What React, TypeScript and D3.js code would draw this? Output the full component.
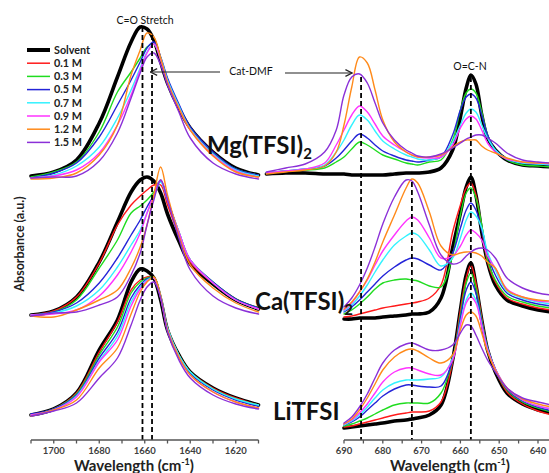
import React from 'react';
import * as d3 from 'd3';

const SERIES = ['Solvent', '0.1 M', '0.3 M', '0.5 M', '0.7 M', '0.9 M', '1.2 M', '1.5 M'];
const COLORS = ['#000000', '#ff1a1a', '#1fdc1f', '#2424d8', '#33f2ff', '#ff33ff', '#ff8a1a', '#8b30d8'];

// C=O stretch region (cm-1)
const LEFT_WN = [1710, 1700, 1690, 1680, 1672, 1666, 1662, 1659, 1656, 1653, 1650, 1645, 1640, 1630, 1620, 1610];
// 690-640 region (cm-1)
const RIGHT_WN = [710, 705, 700, 695, 692, 690, 688, 686, 684, 682, 680, 677, 674, 672.5, 671, 668, 665, 662, 660, 658.5, 657.3, 656, 654.5, 653, 651, 648, 644, 640, 636.5];

// Absorbance (a.u., stacked) – order follows SERIES
const MG_LEFT = [
  [264, 268, 280, 317, 363, 398, 413, 411, 400, 378, 357, 332, 312, 288, 272, 265],
  null,
  [263, 268, 278, 308, 348, 368, 382, 393, 396, 380, 360, 334, 312, 287, 271, 265],
  [262, 267, 277, 303, 335, 360, 378, 392, 398, 383, 362, 336, 313, 288, 271, 265],
  [262, 265, 274, 293, 322, 350, 372, 388, 396, 382, 360, 334, 311, 286, 270, 264],
  [262, 264, 270, 287, 315, 345, 370, 387, 396, 380, 358, 332, 310, 285, 269, 263],
  [261, 262, 267, 285, 315, 365, 390, 407, 403, 382, 358, 332, 310, 284, 268, 263],
  [262, 263, 264, 279, 307, 342, 367, 383, 387, 375, 355, 328, 302, 277, 266, 261],
];
const CA_LEFT = [
  [125, 129, 143, 178, 218, 248, 260, 263, 259, 247, 226, 199, 176, 156, 140, 131],
  [125, 129, 143, 177, 215, 235, 244, 250, 255, 255, 235, 205, 178, 157, 140, 131],
  [125, 128, 140, 172, 200, 227, 234, 240, 248, 260, 240, 208, 180, 158, 141, 132],
  [125, 128, 137, 157, 182, 205, 220, 233, 245, 259, 240, 208, 180, 158, 141, 132],
  [125, 127, 134, 150, 173, 195, 210, 227, 243, 258, 240, 208, 180, 157, 140, 131],
  [125, 126, 130, 144, 165, 188, 207, 227, 245, 260, 240, 208, 180, 157, 140, 131],
  [124, 123, 130, 140, 150, 172, 193, 215, 245, 273, 245, 205, 175, 152, 137, 128],
  [124, 127, 128, 135, 143, 165, 187, 215, 240, 260, 240, 202, 170, 144, 132, 126],
];
const LI_LEFT = [
  [25, 31, 47, 90, 120, 158, 171, 169, 162, 140, 110, 85, 68, 52, 42, 35],
  [25, 31, 47, 88, 118, 150, 160, 163, 163, 143, 112, 85, 68, 52, 42, 35],
  [25, 31, 46, 85, 113, 147, 158, 162, 163, 143, 112, 85, 68, 51, 41, 35],
  [26, 31, 45, 82, 108, 142, 155, 161, 162, 143, 111, 84, 67, 50, 40, 34],
  [25, 30, 44, 79, 104, 138, 153, 160, 162, 144, 112, 85, 68, 51, 41, 35],
  [25, 30, 43, 78, 100, 134, 151, 159, 162, 142, 110, 83, 65, 48, 38, 32],
  [24, 30, 40, 72, 92, 126, 148, 158, 163, 144, 110, 83, 65, 48, 38, 32],
  [24, 29, 37, 62, 82, 115, 140, 153, 158, 142, 108, 80, 62, 45, 36, 31],
];

const MG_RIGHT = [
  [266, 267, 267, 266, 266, 266, 265, 265, 265, 265, 265, 266, 267, 267, 267, 268, 272, 290, 323, 352, 365, 356, 325, 302, 290, 280, 275, 274, 273],
  null,
  [267, 269, 270, 272, 278, 283, 291, 298, 295, 290, 285, 281, 277, 276, 275, 278, 280, 300, 330, 347, 351, 347, 328, 305, 290, 280, 275, 274, 273],
  [267, 269, 271, 274, 282, 290, 299, 306, 302, 295, 289, 284, 280, 279, 278, 280, 283, 305, 330, 343, 346, 342, 325, 305, 290, 281, 277, 276, 275],
  [267, 269, 271, 275, 288, 300, 315, 325, 320, 309, 299, 291, 285, 283, 281, 280, 283, 298, 315, 327, 331, 328, 315, 302, 290, 281, 277, 276, 275],
  [267, 269, 271, 277, 295, 310, 325, 334, 328, 316, 304, 295, 288, 285, 283, 282, 283, 295, 312, 321, 324, 321, 310, 297, 288, 281, 278, 277, 276],
  [266, 268, 270, 274, 288, 315, 353, 383, 377, 350, 320, 298, 288, 285, 283, 283, 285, 293, 298, 300, 300, 300, 294, 290, 287, 282, 278, 277, 277],
  [268, 272, 276, 288, 310, 345, 363, 366, 357, 337, 317, 300, 290, 287, 284, 283, 286, 292, 297, 301, 303, 305, 305, 302, 297, 287, 280, 278, 277],
];
const CA_RIGHT = [
  [null, null, null, null, null, 121, 121, 122, 122, 122, 123, 124, 125, 126, 126, 128, 142, 192, 227, 253, 263, 245, 208, 178, 155, 140, 134, 130, 128],
  [null, null, null, null, null, 123, 124, 126, 128, 130, 132, 134, 136, 137, 138, 142, 155, 208, 235, 252, 257, 245, 212, 178, 158, 142, 136, 132, 130],
  [null, null, null, null, null, 126, 130, 136, 143, 151, 157, 160, 161, 160, 159, 154, 153, 185, 225, 247, 252, 242, 215, 180, 160, 144, 138, 134, 132],
  [null, null, null, null, null, 128, 133, 140, 148, 156, 164, 173, 180, 182, 181, 175, 170, 187, 212, 230, 237, 230, 210, 185, 165, 147, 140, 136, 134],
  [null, null, null, null, null, 129, 135, 144, 155, 168, 180, 195, 204, 207, 205, 190, 174, 182, 202, 220, 228, 224, 212, 188, 170, 149, 142, 138, 136],
  [null, null, null, null, null, 130, 137, 148, 160, 175, 189, 205, 219, 223, 220, 202, 182, 184, 194, 205, 210, 207, 200, 184, 172, 151, 143, 139, 138],
  [null, null, null, null, null, 131, 138, 148, 161, 178, 198, 225, 252, 261, 257, 228, 194, 185, 187, 188, 188, 187, 184, 178, 172, 150, 143, 140, 139],
  [null, null, null, null, null, 133, 142, 155, 172, 193, 216, 243, 260, 259, 248, 215, 185, 176, 178, 184, 188, 191, 192, 190, 182, 162, 152, 147, 145],
];
const LI_RIGHT = [
  [null, null, null, null, null, 12, 13, 14, 15, 16, 17, 19, 20, 21, 22, 25, 35, 80, 130, 165, 177, 155, 120, 90, 68, 47, 36, 30, 27],
  [null, null, null, null, null, 13, 14, 16, 18, 20, 22, 25, 27, 28, 28, 29, 38, 78, 130, 162, 175, 157, 122, 92, 70, 48, 36, 29, 25],
  [null, null, null, null, null, 14, 16, 19, 22, 26, 30, 35, 37, 37, 37, 37, 47, 80, 125, 157, 167, 152, 120, 92, 70, 50, 38, 32, 28],
  [null, null, null, null, null, 15, 18, 23, 30, 37, 44, 51, 55, 55, 54, 53, 54, 80, 122, 150, 158, 147, 118, 92, 71, 51, 39, 33, 29],
  [null, null, null, null, null, 15, 19, 25, 33, 42, 50, 57, 60, 60, 60, 61, 63, 82, 117, 140, 147, 140, 115, 91, 71, 52, 40, 34, 31],
  [null, null, null, null, null, 16, 20, 27, 36, 47, 58, 68, 72, 72, 70, 66, 65, 80, 115, 137, 143, 137, 114, 90, 71, 52, 40, 34, 31],
  [null, null, null, null, null, 16, 21, 30, 42, 56, 70, 83, 90, 91, 89, 82, 77, 85, 110, 125, 128, 124, 107, 88, 70, 52, 41, 36, 33],
  [null, null, null, null, null, 17, 23, 33, 46, 62, 77, 90, 96, 97, 95, 90, 90, 95, 107, 115, 114, 105, 92, 80, 68, 52, 42, 38, 35],
];

// reference lines: [wavenumber, top absorbance]
const LEFT_DASH = [[1661, 413], [1656.8, 405]];
const RIGHT_DASH = [[685.6, 363], [672.5, 258], [657.3, 363]];

const LEFT_TICKS = d3.range(1710, 1609, -10);
const LEFT_LABELS = [1700, 1680, 1660, 1640, 1620];
const RIGHT_TICKS = d3.range(690, 634, -5);
const RIGHT_LABELS = [690, 680, 670, 660, 650, 640];

const FONT = 'Lato, "Open Sans", sans-serif';

export default function App() {
  const W = 549, H = 473;
  const xL = d3.scaleLinear().domain([1710, 1610]).range([31, 258.5]);
  const xR = d3.scaleLinear().domain([690, 640]).range([344, 538]);
  const y = d3.scaleLinear().domain([0, 420]).range([440, 20]);
  const axisY = y(0);

  const mk = (xs: any, wn: number[]) =>
    d3.line<number | null>()
      .defined((v) => v != null)
      .x((_, i) => xs(wn[i]))
      .y((v) => y(v as number))
      .curve(d3.curveCatmullRom.alpha(0.5));
  const lineL = mk(xL, LEFT_WN);
  const lineR = mk(xR, RIGHT_WN);

  const groups: [any, any[]][] = [
    [lineL, MG_LEFT], [lineL, CA_LEFT], [lineL, LI_LEFT],
    [lineR, MG_RIGHT], [lineR, CA_RIGHT], [lineR, LI_RIGHT],
  ];

  return (
    <svg width={W} height={H} style={{ position: 'absolute', left: 0, top: 0, background: '#fff' }}
      fontFamily={FONT}>
      <defs>
        <marker id="ah" viewBox="0 0 10 10" refX="9" refY="5" markerWidth="7" markerHeight="7" orient="auto-start-reverse">
          <path d="M1,1 L9,5 L1,9" fill="none" stroke="#222" strokeWidth="1.5" />
        </marker>
      </defs>
      <rect x={0} y={0} width={W} height={H} fill="#fff" />

      {/* spectra */}
      {groups.map(([ln, data], gi) => (
        <g key={gi}>
          {data.map((s: any, si: number) => s == null ? null : (
            <path key={si} d={ln(s) || ''} fill="none" stroke={COLORS[si]}
              strokeWidth={si === 0 ? 3.6 : 1.4} strokeLinejoin="round" strokeLinecap="round" />
          ))}
        </g>
      ))}

      {/* dashed reference lines */}
      {LEFT_DASH.map(([w, top], i) => (
        <line key={'dl' + i} x1={xL(w)} x2={xL(w)} y1={y(top)} y2={axisY}
          stroke="#000" strokeWidth={1.8} strokeDasharray="5,3" />
      ))}
      {RIGHT_DASH.map(([w, top], i) => (
        <line key={'dr' + i} x1={xR(w)} x2={xR(w)} y1={y(top)} y2={axisY}
          stroke="#000" strokeWidth={1.8} strokeDasharray="5,3" />
      ))}

      {/* axes */}
      <g stroke="#555" strokeWidth={1.3}>
        <line x1={xL(1710)} x2={xL(1610)} y1={axisY} y2={axisY} />
        {LEFT_TICKS.map((t) => <line key={'lt' + t} x1={xL(t)} x2={xL(t)} y1={axisY} y2={axisY + 3.5} />)}
        <line x1={xR(690)} x2={W} y1={axisY} y2={axisY} />
        {RIGHT_TICKS.map((t) => <line key={'rt' + t} x1={xR(t)} x2={xR(t)} y1={axisY} y2={axisY + 3.5} />)}
      </g>
      <g fontSize={9.5} fontWeight={700} fill="#404040" textAnchor="middle">
        {LEFT_LABELS.map((t) => <text key={'ll' + t} x={xL(t)} y={axisY + 14}>{t}</text>)}
        {RIGHT_LABELS.map((t) => <text key={'rl' + t} x={xR(t)} y={axisY + 14}>{t}</text>)}
      </g>
      <g fontSize={15} fontWeight={700} fill="#222" textAnchor="middle">
        <text x={134} y={471}>Wavelength (cm<tspan fontSize={9} dy={-6}>-1</tspan><tspan dy={6}>)</tspan></text>
        <text x={450} y={471}>Wavelength (cm<tspan fontSize={9} dy={-6}>-1</tspan><tspan dy={6}>)</tspan></text>
      </g>
      <text transform="translate(24,244) rotate(-90)" textAnchor="middle" fontSize={12.5} fontWeight={700} fill="#222">
        Absorbance (a.u.)
      </text>

      {/* annotations */}
      <text x={145} y={23.5} textAnchor="middle" fontSize={10.5} fill="#111">C=O Stretch</text>
      <text x={470} y={70} textAnchor="middle" fontSize={10.5} fill="#111">O=C-N</text>
      <text x={251} y={75} textAnchor="middle" fontSize={10.5} fill="#111">Cat-DMF</text>
      <line x1={220} x2={xL(1657.5)} y1={72} y2={72} stroke="#222" strokeWidth={1.2} markerEnd="url(#ah)" />
      <line x1={285} x2={xR(687.9)} y1={73} y2={73} stroke="#222" strokeWidth={1.2} markerEnd="url(#ah)" />

      {/* salt labels */}
      <g fontSize={24} fontWeight={700} fill="#111">
        <text x={207} y={154}>Mg(TFSI)<tspan fontSize={15} dy={5}>2</tspan></text>
        <text x={255} y={310}>Ca(TFSI)<tspan fontSize={15} dy={5}>2</tspan></text>
        <text x={273} y={420}>LiTFSI</text>
      </g>

      {/* legend */}
      <g>
        {SERIES.map((s, i) => {
          const ly = 50 + i * 13.2;
          return (
            <g key={s}>
              <line x1={27} x2={50} y1={ly} y2={ly} stroke={COLORS[i]} strokeWidth={i === 0 ? 4 : 1.5} />
              <text x={54} y={ly + 3.8} fontSize={10.8} fontWeight={700} fill="#222">{s}</text>
            </g>
          );
        })}
      </g>
    </svg>
  );
}
